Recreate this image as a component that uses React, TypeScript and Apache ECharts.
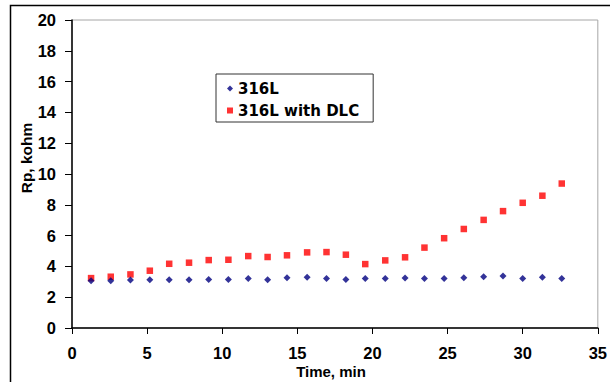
import React, { useEffect, useRef } from "react";
import * as echarts from "echarts";

const times = [1.27, 2.58, 3.89, 5.18, 6.47, 7.79, 9.1, 10.41, 11.73, 13.02, 14.31, 15.65, 16.94, 18.23, 19.52, 20.85, 22.17, 23.46, 24.77, 26.08, 27.4, 28.69, 30.0, 31.31, 32.6];
const rp316L = [3.07, 3.07, 3.11, 3.13, 3.13, 3.13, 3.15, 3.15, 3.22, 3.13, 3.26, 3.3, 3.22, 3.15, 3.22, 3.22, 3.24, 3.22, 3.22, 3.26, 3.33, 3.37, 3.22, 3.3, 3.22];
const rpDLC = [3.24, 3.33, 3.48, 3.72, 4.17, 4.24, 4.41, 4.43, 4.67, 4.61, 4.72, 4.91, 4.93, 4.76, 4.15, 4.39, 4.59, 5.22, 5.83, 6.43, 7.02, 7.59, 8.13, 8.59, 9.38];
const seriesNames = ["316L", "316L with DLC"];
const xTitle = "Time, min";
const yTitle = "Rp, kohm";

const FONT = "'Liberation Sans', Arial, sans-serif";
const LEGEND_FONT = "'DejaVu Sans', sans-serif";

export default function App() {
  const ref = useRef<HTMLDivElement>(null);
  useEffect(() => {
    if (!ref.current) return;
    const chart = echarts.init(ref.current, null, { renderer: "svg" });
    chart.setOption({
      animation: false,
      backgroundColor: "#fff",
      grid: {
        left: 72,
        right: 4,
        top: 20,
        bottom: 54,
        show: true,
        borderColor: "#a6a6a6",
        borderWidth: 1,
      },
      legend: {
        orient: "vertical",
        left: 216,
        top: 74,
        padding: [7, 14, 4, 11],
        itemGap: 7,
        itemWidth: 6,
        itemHeight: 6,
        borderColor: "#333",
        borderWidth: 1,
        backgroundColor: "#fff",
        textStyle: { fontFamily: LEGEND_FONT, fontWeight: "bold", fontSize: 15, color: "#000" },
        data: [
          { name: seriesNames[0], icon: "diamond" },
          { name: seriesNames[1], icon: "rect" },
        ],
      },
      xAxis: {
        type: "value",
        min: 0,
        max: 35,
        interval: 5,
        splitLine: { show: false },
        axisLine: { show: true, onZero: false, lineStyle: { color: "#000", width: 1.5 } },
        axisTick: { show: true, length: 6, lineStyle: { color: "#000" } },
        axisLabel: { fontFamily: FONT, fontWeight: "bold", fontSize: 16.5, color: "#000", margin: 16 },
      },
      yAxis: {
        type: "value",
        min: 0,
        max: 20,
        interval: 2,
        splitLine: { show: false },
        axisLine: { show: true, onZero: false, lineStyle: { color: "#000", width: 1.5 } },
        axisTick: { show: true, length: 7, lineStyle: { color: "#000" } },
        axisLabel: { fontFamily: FONT, fontWeight: "bold", fontSize: 16.5, color: "#000", margin: 16 },
      },
      graphic: [
        {
          type: "rect",
          silent: true,
          shape: { x: 10.5, y: 5.5, width: 700, height: 500 },
          style: { fill: "none", stroke: "#000", lineWidth: 1.5 },
        },
        {
          type: "text",
          x: 26,
          y: 158,
          rotation: Math.PI / 2,
          style: {
            text: yTitle,
            fontFamily: FONT,
            fontWeight: "bold",
            fontSize: 15.5,
            fill: "#000",
            align: "center",
            verticalAlign: "middle",
          },
        },
        {
          type: "text",
          x: 331,
          y: 371,
          style: {
            text: xTitle,
            fontFamily: FONT,
            fontWeight: "bold",
            fontSize: 15,
            fill: "#000",
            align: "center",
            verticalAlign: "middle",
          },
        },
      ],
      series: [
        {
          name: seriesNames[0],
          type: "scatter",
          symbol: "diamond",
          symbolSize: 7,
          itemStyle: { color: "#000080" },
          data: times.map((t, i) => [t, rp316L[i]]),
          z: 3,
        },
        {
          name: seriesNames[1],
          type: "scatter",
          symbol: "rect",
          symbolSize: 6.5,
          itemStyle: { color: "#ff0000" },
          data: times.map((t, i) => [t, rpDLC[i]]),
          z: 2,
        },
      ],
    });
    return () => chart.dispose();
  }, []);
  return (
    <div
      ref={ref}
      style={{ position: "fixed", left: 0, top: 0, width: 610, height: 382, background: "#fff" }}
    />
  );
}
